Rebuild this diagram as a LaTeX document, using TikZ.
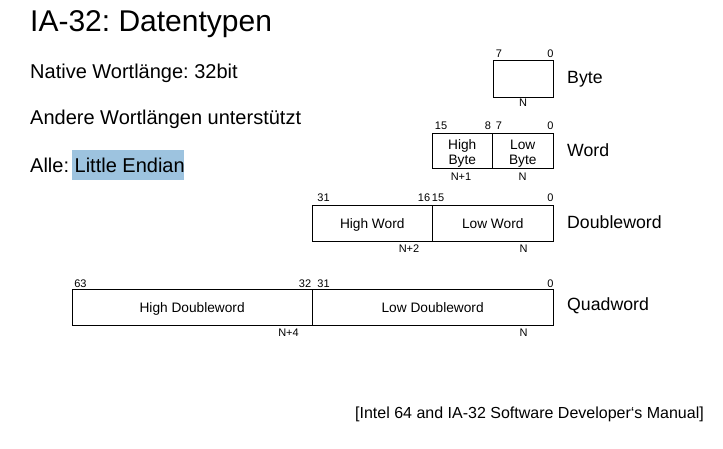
\documentclass[tikz,border=0pt]{standalone}
\usepackage{fontspec}
\setmainfont{Liberation Sans}
\frenchspacing
\definecolor{hl}{HTML}{9DC3DF}
\tikzset{
  cell/.style={draw=black, line width=0.8pt, inner sep=0pt},
  celltxt/.style={anchor=base, inner sep=0pt, font=\fontsize{13.7}{15}\selectfont, align=center},
  bitlbl/.style={inner sep=0pt, font=\fontsize{11}{12}\selectfont},
  namelbl/.style={anchor=west, inner sep=0pt, font=\fontsize{17.7}{20}\selectfont},
  bodytxt/.style={anchor=base west, inner sep=0pt, font=\fontsize{20}{24}\selectfont},
}
\begin{document}
\begin{tikzpicture}[x=1pt, y=-1pt]
\useasboundingbox (0,0) rectangle (723,449);
% texts
\node[anchor=base west, inner sep=0pt, font=\fontsize{30}{36}\selectfont] (title) at (30,31.7) {IA-32: Datentypen};
\node[bodytxt] (native) at (30,78.5) {Native Wortlänge: 32bit};
\node[bodytxt] (andere) at (30,124.5) {Andere Wortlängen unterstützt};
\fill[hl] (72,150.5) rectangle (184,180);
\node[bodytxt] (alle) at (30,172.5) {Alle: Little Endian};
% Byte
\node[cell, minimum width=60pt, minimum height=37pt] (byte) at (523,78.5) {};
\node[bitlbl] (b7) at (499,54) {7};
\node[bitlbl] (b0) at (550.5,54) {0};
\node[bitlbl] (bN) at (523,103) {N};
\node[namelbl] (byteL) at (567,79) {Byte};
% Word
\node[cell, minimum width=60.5pt, minimum height=35.5pt] (whi) at (462.25,151) {};
\node[cell, minimum width=60.5pt, minimum height=35.5pt] (wlo) at (522.75,151) {};
\node[celltxt] (whiT) at (462.25,164.1) {High\\Byte};
\node[celltxt] (wloT) at (522.75,164.1) {Low\\Byte};
\node[bitlbl] (w15) at (441,126) {15};
\node[bitlbl] (w8) at (488,126) {8};
\node[bitlbl] (w7) at (499,126) {7};
\node[bitlbl] (w0) at (550.5,126) {0};
\node[bitlbl] (wN1) at (461,177) {N+1};
\node[bitlbl] (wN) at (522.5,177) {N};
\node[namelbl] (wordL) at (567,150) {Word};
% Doubleword
\node[cell, minimum width=120.5pt, minimum height=35.5pt] (dhi) at (372.25,223.3) {};
\node[cell, minimum width=120.5pt, minimum height=35.5pt] (dlo) at (492.75,223.3) {};
\node[celltxt] (dhiT) at (372.25,228.2) {High Word};
\node[celltxt] (dloT) at (492.75,228.2) {Low Word};
\node[bitlbl] (d31) at (323.5,198) {31};
\node[bitlbl] (d16) at (424,198) {16};
\node[bitlbl] (d15) at (438,198) {15};
\node[bitlbl] (d0) at (550.5,198) {0};
\node[bitlbl] (dN2) at (409,249) {N+2};
\node[bitlbl] (dN) at (523.5,249) {N};
\node[namelbl] (dwordL) at (567,221.7) {Doubleword};
% Quadword
\node[cell, minimum width=240.3pt, minimum height=35.7pt] (qhi) at (192.15,307.2) {};
\node[cell, minimum width=240.7pt, minimum height=35.7pt] (qlo) at (432.65,307.2) {};
\node[celltxt] (qhiT) at (192.15,312.1) {High Doubleword};
\node[celltxt] (qloT) at (432.65,312.1) {Low Doubleword};
\node[bitlbl] (q63) at (80.5,283.3) {63};
\node[bitlbl] (q32) at (305,283.3) {32};
\node[bitlbl] (q31) at (323.5,283.3) {31};
\node[bitlbl] (q0) at (550.5,283.3) {0};
\node[bitlbl] (qN4) at (288.5,332.5) {N+4};
\node[bitlbl] (qN) at (523.5,332.5) {N};
\node[namelbl] (qwordL) at (567,305.7) {Quadword};
% footer
\node[anchor=west, inner sep=0pt, font=\fontsize{16}{19}\selectfont] (src) at (355,414) {[Intel 64 and IA-32 Software Developer‘s Manual]};
\end{tikzpicture}
\end{document}
